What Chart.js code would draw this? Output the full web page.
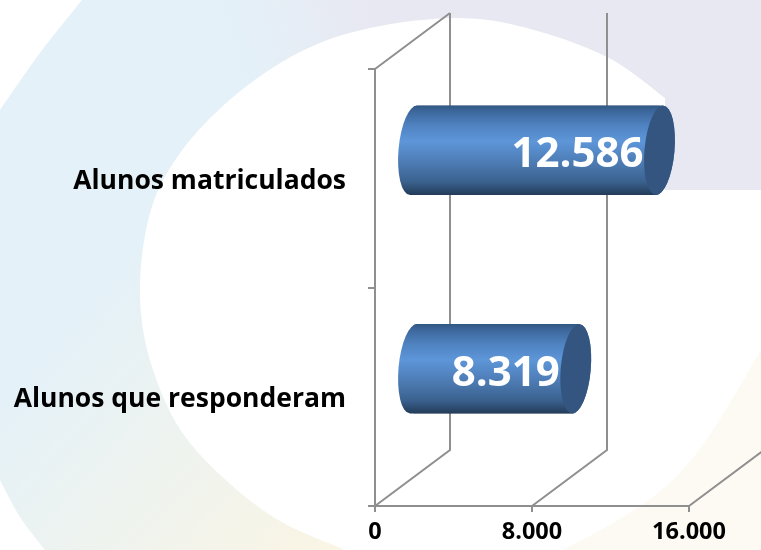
<!DOCTYPE html>
<html>
<head>
<meta charset="utf-8">
<style>html,body{margin:0;padding:0;background:#fff}#wrap{width:761px;height:550px;position:relative}</style>
<script src="https://cdn.jsdelivr.net/npm/chart.js@4"></script>
</head>
<body>
<div id="wrap"><canvas id="c" width="761" height="550"></canvas></div>
<script>
const categories = ['Alunos matriculados', 'Alunos que responderam'];
const studentCounts = [12586, 8319];
const countLabels = ['12.586', '8.319'];
const axisTickValues = [0, 8000, 16000];
const axisTickLabels = ['0', '8.000', '16.000'];

const FONT = '"Open Sans", sans-serif';
const DEPTH_X = 75, DEPTH_Y = 56, CAP_RX = 15, TILT = 5 * Math.PI / 180;
const GRID = '#8f8f8f';
const BAR_PCT = 0.41;

function smooth(ctx, pts, start) {
  if (start) ctx.moveTo(pts[0][0], pts[0][1]); else ctx.lineTo(pts[0][0], pts[0][1]);
  for (let i = 0; i < pts.length - 1; i++) {
    const p0 = pts[Math.max(i - 1, 0)], p1 = pts[i], p2 = pts[i + 1], p3 = pts[Math.min(i + 2, pts.length - 1)];
    ctx.bezierCurveTo(p1[0] + (p2[0] - p0[0]) / 6, p1[1] + (p2[1] - p0[1]) / 6,
                      p2[0] - (p3[0] - p1[0]) / 6, p2[1] - (p3[1] - p1[1]) / 6, p2[0], p2[1]);
  }
}

function barGradient(ctx, top, bottom) {
  const g = ctx.createLinearGradient(0, top, 0, bottom);
  g.addColorStop(0, '#325781');
  g.addColorStop(0.06, '#3c669a');
  g.addColorStop(0.22, '#4f82c0');
  g.addColorStop(0.40, '#5d96d9');
  g.addColorStop(0.60, '#5080ba');
  g.addColorStop(0.85, '#3b628f');
  g.addColorStop(1, '#233b58');
  return g;
}

function cylinderPath(ctx, el) {
  const top = el.y - el.height / 2, bottom = el.y + el.height / 2, sk = 4;
  ctx.moveTo(el.base + sk, top);
  ctx.lineTo(el.x + sk, top);
  ctx.lineTo(el.x - sk, bottom);
  ctx.lineTo(el.base - sk, bottom);
  ctx.closePath();
  ctx.moveTo(el.base + CAP_RX, el.y);
  ctx.ellipse(el.base, el.y, CAP_RX, el.height / 2, TILT, 0, Math.PI * 2);
  ctx.closePath();
  ctx.moveTo(el.x + CAP_RX, el.y);
  ctx.ellipse(el.x, el.y, CAP_RX, el.height / 2, TILT, 0, Math.PI * 2);
  ctx.closePath();
}

const backdrop = {
  id: 'backdrop',
  beforeDraw(chart) {
    const ctx = chart.ctx;
    ctx.save();
    ctx.fillStyle = '#ffffff';
    ctx.fillRect(0, 0, 761, 550);
    // tinted outer shape
    ctx.beginPath();
    ctx.moveTo(761, 0);
    ctx.lineTo(761, 550);
    smooth(ctx, [[45, 550], [20, 517], [0, 480]], false);
    ctx.lineTo(0, 110);
    smooth(ctx, [[0, 110], [40, 53], [82, 0]], false);
    ctx.closePath();
    ctx.save();
    ctx.clip();
    const v = ctx.createLinearGradient(60, 330, 330, 570);
    v.addColorStop(0, '#e4f1f8');
    v.addColorStop(0.45, '#eef3ef');
    v.addColorStop(1, '#fbf5e4');
    ctx.fillStyle = v;
    ctx.fillRect(0, 0, 761, 550);
    const h = ctx.createLinearGradient(230, 40, 370, 0);
    h.addColorStop(0, 'rgba(232,232,242,0)');
    h.addColorStop(1, 'rgba(232,232,242,1)');
    ctx.fillStyle = h;
    ctx.fillRect(0, 0, 761, 190);
    ctx.fillStyle = '#fdfaf3';
    ctx.fillRect(450, 300, 311, 250);
    ctx.restore();
    // white centre
    ctx.beginPath();
    smooth(ctx, [[345, 550], [267, 513], [190, 443], [153, 370], [140, 295],
                 [150, 213], [180, 153], [233, 97], [300, 52], [370, 28],
                 [457, 18], [527, 28], [607, 57], [665, 98]], true);
    ctx.lineTo(665, 190);
    ctx.lineTo(761, 190);
    ctx.lineTo(761, 350);
    smooth(ctx, [[761, 350], [713, 430], [673, 480], [623, 517], [563, 550]], false);
    ctx.closePath();
    ctx.fillStyle = '#ffffff';
    ctx.fill();
    ctx.restore();
  }
};

const depthGrid = {
  id: 'depthGrid',
  beforeDatasetsDraw(chart) {
    const ctx = chart.ctx, a = chart.chartArea, xs = chart.scales.x;
    ctx.save();
    ctx.strokeStyle = GRID;
    ctx.lineWidth = 2;
    ctx.beginPath();
    axisTickValues.forEach(v => {
      const x = xs.getPixelForValue(v);
      ctx.moveTo(x, a.bottom);
      ctx.lineTo(x + DEPTH_X, a.bottom - DEPTH_Y);
      ctx.lineTo(x + DEPTH_X, a.top - DEPTH_Y);
    });
    const x0 = xs.getPixelForValue(0);
    ctx.moveTo(x0, a.top);
    ctx.lineTo(x0 + DEPTH_X, a.top - DEPTH_Y);
    ctx.stroke();
    ctx.restore();
  }
};

const cylinders = {
  id: 'cylinders',
  beforeDatasetDraw(chart, args) {
    const ctx = chart.ctx, els = args.meta.data;
    ctx.save();
    ctx.translate(DEPTH_X / 2, -DEPTH_Y / 2);
    els.forEach(el => {
      ctx.beginPath();
      cylinderPath(ctx, el);
      ctx.fillStyle = barGradient(ctx, el.y - el.height / 2, el.y + el.height / 2);
      ctx.fill();
    });
    ctx.beginPath();
    els.forEach(el => cylinderPath(ctx, el));
    ctx.clip();
  },
  afterDatasetDraw(chart, args) {
    const ctx = chart.ctx, els = args.meta.data;
    ctx.restore();
    ctx.save();
    ctx.translate(DEPTH_X / 2, -DEPTH_Y / 2);
    els.forEach((el, i) => {
      ctx.beginPath();
      ctx.ellipse(el.x, el.y, CAP_RX, el.height / 2, TILT, 0, Math.PI * 2);
      ctx.fillStyle = '#33557f';
      ctx.fill();
      ctx.font = 'bold 42px ' + FONT;
      ctx.fillStyle = '#ffffff';
      ctx.textAlign = 'right';
      ctx.textBaseline = 'middle';
      ctx.fillText(countLabels[i], el.x - 16, el.y + 5);
    });
    ctx.restore();
  }
};

const labelNudge = {
  id: 'labelNudge',
  afterLayout(chart) {
    const s = chart.scales.y;
    if (s._nudged) return;
    s._nudged = true;
    const draw = s.drawLabels.bind(s);
    s.drawLabels = function (area) {
      s.ctx.save();
      s.ctx.translate(0, 3);
      draw(area);
      s.ctx.restore();
    };
  }
};

new Chart(document.getElementById('c'), {
  type: 'bar',
  data: {
    labels: categories,
    datasets: [{
      data: studentCounts,
      clip: false,
      borderWidth: 0,
      categoryPercentage: 1,
      barPercentage: BAR_PCT,
      backgroundColor(c) {
        const a = c.chart.chartArea;
        if (!a) return '#4f82c0';
        const band = a.height / categories.length;
        const mid = a.top + band * (c.dataIndex + 0.5);
        return barGradient(c.chart.ctx, mid - band * BAR_PCT / 2, mid + band * BAR_PCT / 2);
      }
    }]
  },
  options: {
    indexAxis: 'y',
    responsive: false,
    animation: false,
    layout: { padding: { top: 69, right: 72, left: 0, bottom: 0 } },
    plugins: { legend: { display: false }, title: { display: false }, tooltip: { enabled: false } },
    scales: {
      x: {
        min: 0, max: 16000,
        afterBuildTicks(s) { s.ticks = axisTickValues.map(v => ({ value: v })); },
        afterFit(s) { s.height = 44; },
        ticks: {
          autoSkip: false, maxRotation: 0, padding: 6, color: '#000',
          font: { family: FONT, weight: 'bold', size: 23.5 },
          callback: (v) => axisTickLabels[axisTickValues.indexOf(v)]
        },
        grid: { drawOnChartArea: false, drawTicks: true, tickLength: 6, color: GRID, lineWidth: 2 },
        border: { display: true, color: GRID, width: 2 }
      },
      y: {
        afterFit(s) { s.width = 375; },
        ticks: { padding: 22, color: '#000', font: { family: FONT, weight: 'bold', size: 26.5 } },
        grid: { drawOnChartArea: false, drawTicks: true, tickLength: 7, color: GRID, lineWidth: 2 },
        border: { display: true, color: GRID, width: 2 }
      }
    }
  },
  plugins: [backdrop, depthGrid, cylinders, labelNudge]
});
</script>
</body>
</html>
